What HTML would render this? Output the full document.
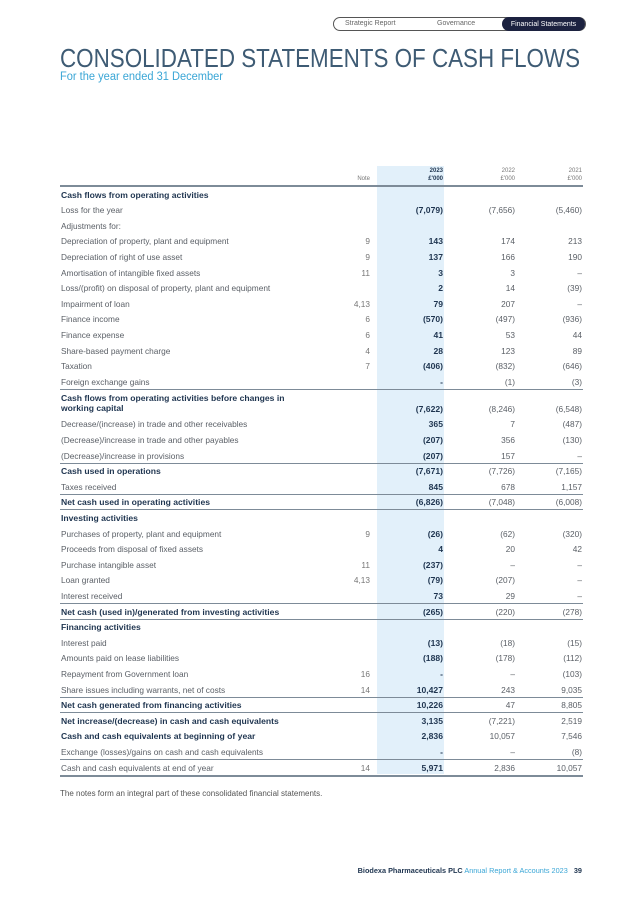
<!DOCTYPE html>
<html><head><meta charset="utf-8"><style>
body{margin:0;background:#fff;}
#page{position:relative;width:634px;height:897px;overflow:hidden;font-family:"Liberation Sans",sans-serif;color:#5a5f66;}
.abs{position:absolute;}
.row{position:absolute;left:60px;width:523px;font-size:8.3px;}
.row .lbl{position:absolute;left:1px;white-space:nowrap;}
.row .c{position:absolute;text-align:right;white-space:nowrap;}
.b{font-weight:bold;color:#1f3550;}
.line{position:absolute;left:60px;width:523px;height:1px;background:#7d8b98;}
</style></head><body>
<div id="page">
  <div class="abs" style="left:333px;top:17px;width:251px;height:12px;border:1px solid #555;border-radius:7px;"></div>
  <div class="abs" style="left:345px;top:20px;font-size:7px;color:#666;">Strategic Report</div>
  <div class="abs" style="left:437px;top:20px;font-size:7px;color:#666;">Governance</div>
  <div class="abs" style="left:502px;top:17px;width:83px;height:14px;background:#1c2240;border-radius:7px;color:#fff;font-size:7px;line-height:15px;text-align:center;">Financial Statements</div>
  <svg class="abs" style="left:0;top:0" width="634" height="90">
    <text x="60" y="67" font-family="Liberation Sans" font-size="26" fill="#3e5b74" textLength="520" lengthAdjust="spacingAndGlyphs">CONSOLIDATED STATEMENTS OF CASH FLOWS</text>
    <text x="60" y="80" font-family="Liberation Sans" font-size="11.5" fill="#3aa6d6" textLength="163" lengthAdjust="spacingAndGlyphs">For the year ended 31 December</text>
  </svg>
  <div class="abs" style="left:377px;top:166px;width:67px;height:608px;background:#e2f0fa;"></div>
  <div class="abs" style="left:330px;top:176px;width:40px;text-align:right;font-size:6px;color:#777;">Note</div>
  <div class="abs b" style="left:400px;top:167px;width:43px;text-align:right;font-size:6px;line-height:8px;">2023<br>£'000</div>
  <div class="abs" style="left:472px;top:167px;width:43px;text-align:right;font-size:6px;line-height:8px;color:#777;">2022<br>£'000</div>
  <div class="abs" style="left:539px;top:167px;width:43px;text-align:right;font-size:6px;line-height:8px;color:#777;">2021<br>£'000</div>
  <div class="line" style="top:185px;height:2px;"></div>
  <div id="rows"></div>
  <div class="abs" style="left:60px;top:789px;font-size:8px;color:#555;">The notes form an integral part of these consolidated financial statements.</div>
  <div class="abs" style="left:350px;top:866px;width:232px;text-align:right;font-size:7.3px;white-space:nowrap;"><b style="color:#1f3550">Biodexa Pharmaceuticals PLC</b> <span style="color:#3aa6d6">Annual Report &amp; Accounts 2023</span> &nbsp; <b style="color:#1f3550">39</b></div>
</div>
<script>
// [label, note, 2023, 2022, 2021, type(h/n/t/t2), lineAbove]
const rowsData=[
["Cash flows from operating activities","","","","","h",0],
["Loss for the year","","(7,079)","(7,656)","(5,460)","n",0],
["Adjustments for:","","","","","n",0],
["Depreciation of property, plant and equipment","9","143","174","213","n",0],
["Depreciation of right of use asset","9","137","166","190","n",0],
["Amortisation of intangible fixed assets","11","3","3","–","n",0],
["Loss/(profit) on disposal of property, plant and equipment","","2","14","(39)","n",0],
["Impairment of loan","4,13","79","207","–","n",0],
["Finance income","6","(570)","(497)","(936)","n",0],
["Finance expense","6","41","53","44","n",0],
["Share-based payment charge","4","28","123","89","n",0],
["Taxation","7","(406)","(832)","(646)","n",0],
["Foreign exchange gains","","-","(1)","(3)","n",0],
["Cash flows from operating activities before changes in<br>working capital","","(7,622)","(8,246)","(6,548)","t2",1],
["Decrease/(increase) in trade and other receivables","","365","7","(487)","n",0],
["(Decrease)/increase in trade and other payables","","(207)","356","(130)","n",0],
["(Decrease)/increase in provisions","","(207)","157","–","n",0],
["Cash used in operations","","(7,671)","(7,726)","(7,165)","t",1],
["Taxes received","","845","678","1,157","n",0],
["Net cash used in operating activities","","(6,826)","(7,048)","(6,008)","t",1],
["Investing activities","","","","","h",1],
["Purchases of property, plant and equipment","9","(26)","(62)","(320)","n",0],
["Proceeds from disposal of fixed assets","","4","20","42","n",0],
["Purchase intangible asset","11","(237)","–","–","n",0],
["Loan granted","4,13","(79)","(207)","–","n",0],
["Interest received","","73","29","–","n",0],
["Net cash (used in)/generated from investing activities","","(265)","(220)","(278)","t",1],
["Financing activities","","","","","h",1],
["Interest paid","","(13)","(18)","(15)","n",0],
[" Amounts paid on lease liabilities","","(188)","(178)","(112)","n",0],
["Repayment from Government loan","16","-","–","(103)","n",0],
["Share issues including warrants, net of costs","14","10,427","243","9,035","n",0],
["Net cash generated from financing activities","","10,226","47","8,805","t",1],
["Net increase/(decrease) in cash and cash equivalents","","3,135","(7,221)","2,519","t",1],
["Cash and cash equivalents at beginning of year","","2,836","10,057","7,546","t",0],
["Exchange (losses)/gains on cash and cash equivalents","","-","–","(8)","n",0],
["Cash and cash equivalents at end of year","14","5,971","2,836","10,057","e",1]
];
const host=document.getElementById('rows');
let y=186.5;
rowsData.forEach(function(r){
  const h=r[5]==='t2'?27:15.6;
  if(r[6]){
    const ln=document.createElement('div');
    ln.className='line';
    ln.style.top=(y-0.5)+'px';
    
    
    host.appendChild(ln);
  }
  const d=document.createElement('div');
  d.className='row';
  d.style.top=y+'px';d.style.height=h+'px';
  
  
  const bold=(r[5]==='h'||r[5]==='t'||r[5]==='t2');
  const vt=r[5]==='t2'?15:3;
  let html='<span class="lbl'+(bold?' b':'')+'" style="top:'+(r[5]==='t2'?4:3)+'px;line-height:10px;'+(bold?'font-size:8.6px;':'')+'">'+r[0]+'</span>';
  html+='<span class="c" style="right:213px;top:'+vt+'px;color:#777">'+r[1]+'</span>';
  html+='<span class="c b" style="right:140px;top:'+vt+'px;font-size:8.6px">'+r[2]+'</span>';
  html+='<span class="c" style="right:68px;top:'+vt+'px">'+r[3]+'</span>';
  html+='<span class="c" style="right:1px;top:'+vt+'px">'+r[4]+'</span>';
  d.innerHTML=html;
  host.appendChild(d);
  y+=h;
  if(r[5]==='e'){
    const ln=document.createElement('div');
    ln.className='line';
    ln.style.top=(y-0.5)+'px';ln.style.height='2px';
    
    
    host.appendChild(ln);
  }
});
</script>
</body></html>
